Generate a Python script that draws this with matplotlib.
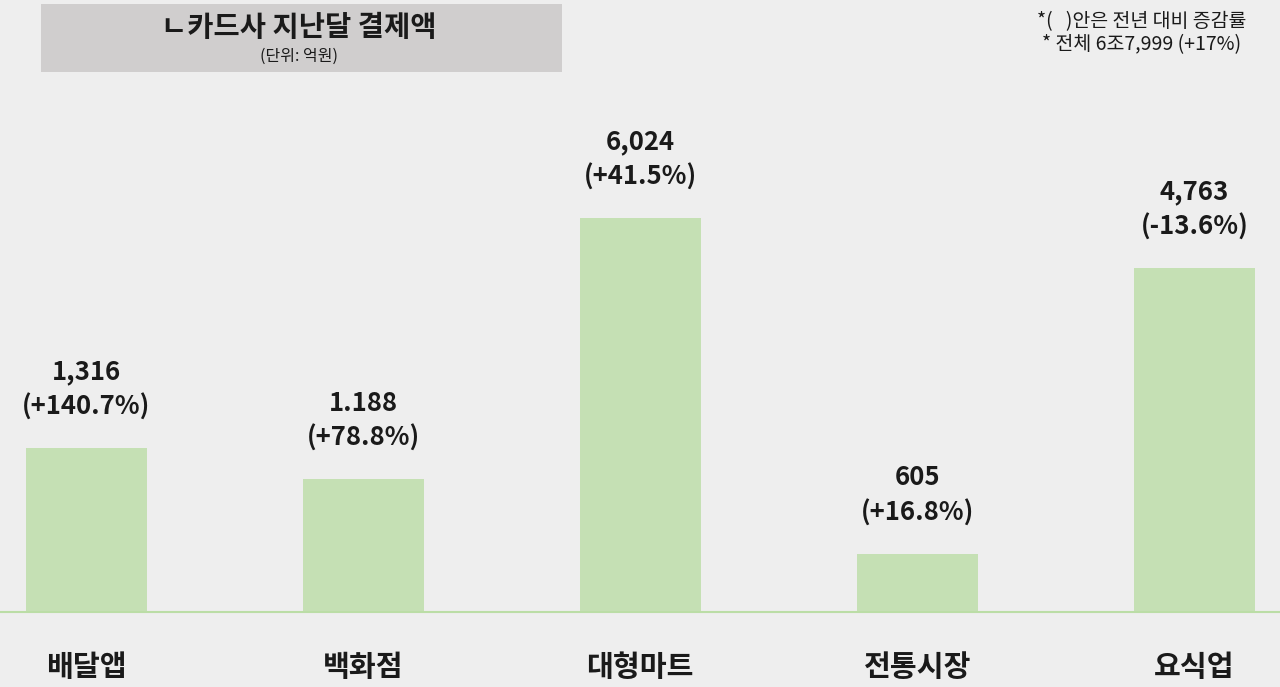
import matplotlib
matplotlib.use("Agg")
import matplotlib.pyplot as plt
from matplotlib.patches import Rectangle

plt.rcParams['font.family'] = ['Noto Sans CJK KR', 'DejaVu Sans']

# ---- data ----
categories = ['배달앱', '백화점', '대형마트', '전통시장', '요식업']
amounts = ['1,316', '1.188', '6,024', '605', '4,763']          # labels as printed (억원)
changes = ['+140.7%', '+78.8%', '+41.5%', '+16.8%', '-13.6%']   # YoY change
# bar heights as drawn in the picture (not to scale with labels), scaled so 대형마트 = 6024
drawn_heights = [2507, 2033, 6024, 887, 5260]

title = 'ㄴ카드사 지난달 결제액'
subtitle = '(단위: 억원)'
note_lines = ['*(   )안은 전년 대비 증감률', '* 전체 6조7,999 (+17%)']

BG = '#EEEEEE'
BAR = '#C5E0B4'
TXT = '#1A1A1A'

W, H, DPI = 1280, 687, 100
fig = plt.figure(figsize=(W / DPI, H / DPI), dpi=DPI, facecolor=BG)

base_px = 612
ax = fig.add_axes([0, (H - base_px) / H, 1, base_px / H])
ax.set_facecolor(BG)

x = list(range(len(categories)))
ax.bar(x, drawn_heights, width=121 / 277, color=BAR, zorder=2)

px_per_unit = 394 / 6024
ax.set_ylim(0, base_px / px_per_unit)
ax.set_xlim(-86 / 277, 4 + (1280 - 1194.5) / 277)

for s in ['top', 'right', 'left']:
    ax.spines[s].set_visible(False)
ax.spines['bottom'].set_color('#BBDDA6')
ax.spines['bottom'].set_linewidth(1.5)
ax.set_yticks([])
ax.set_xticks(x)
ax.set_xticklabels(categories, fontsize=21, fontweight='bold', color=TXT)
ax.tick_params(axis='x', length=0, pad=29)

pt = 72 / DPI
for xi, h, a, c in zip(x, drawn_heights, amounts, changes):
    ax.annotate(f'({c})', (xi, h), xytext=(0, 41 * pt), textcoords='offset points',
                ha='center', va='center', fontsize=18.5, fontweight='bold', color=TXT)
    ax.annotate(a, (xi, h), xytext=(0, 76 * pt), textcoords='offset points',
                ha='center', va='center', fontsize=18.5, fontweight='bold', color=TXT)

# title box
fig.patches.append(Rectangle((41 / W, (H - 72) / H), (562 - 41) / W, 68 / H,
                             transform=fig.transFigure, facecolor='#D0CECE',
                             edgecolor='none', zorder=0))
fig.text(299 / W, 1 - 28 / H, title, ha='center', va='center', fontsize=20.5,
         fontweight='bold', color=TXT)
fig.text(299 / W, 1 - 56 / H, subtitle, ha='center', va='center', fontsize=11.5,
         color=TXT)

fig.text(1142 / W, 1 - 22 / H, note_lines[0], ha='center', va='center', fontsize=14, color=TXT)
fig.text(1142 / W, 1 - 45 / H, note_lines[1], ha='center', va='center', fontsize=14, color=TXT)

fig.savefig('out.png', dpi=DPI, facecolor=BG)
